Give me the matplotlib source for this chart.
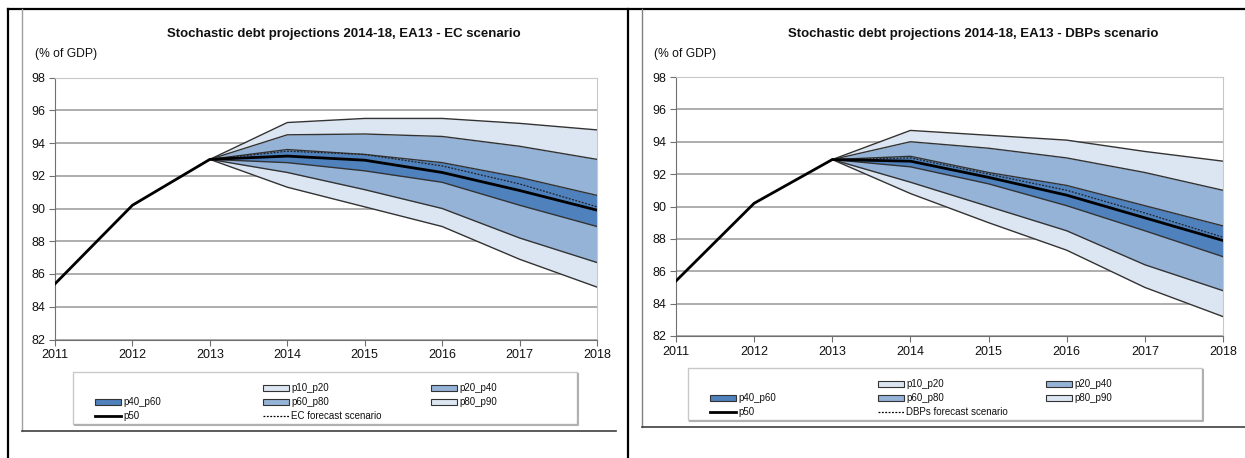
#!/usr/bin/env python3
"""Stochastic debt projections 2014-18, EA13: EC and DBPs scenario fan charts."""
import matplotlib
matplotlib.use("Agg")
import matplotlib.pyplot as plt
from matplotlib.patches import Rectangle
from matplotlib.lines import Line2D

plt.rcParams["font.family"] = ["Liberation Sans", "DejaVu Sans"]

W, H = 1245, 458

# history 2011-2013, and fan 2013-2018
hist_years = [2011, 2012, 2013]
fan_years = [2013, 2014, 2015, 2016, 2017, 2018]

ec_hist = [85.4, 90.2, 93.0]
ec_p10 = [93.0, 91.3, 90.1, 88.9, 86.9, 85.2]
ec_p20 = [93.0, 92.2, 91.15, 90.0, 88.2, 86.7]
ec_p40 = [93.0, 92.8, 92.3, 91.6, 90.2, 88.9]
ec_p50 = [93.0, 93.2, 92.95, 92.2, 91.1, 89.9]
ec_p60 = [93.0, 93.6, 93.3, 92.8, 91.9, 90.8]
ec_p80 = [93.0, 94.5, 94.55, 94.4, 93.8, 93.0]
ec_p90 = [93.0, 95.25, 95.5, 95.5, 95.2, 94.8]
ec_fc = [93.0, 93.5, 93.3, 92.6, 91.5, 90.1]

dbp_hist = [85.4, 90.2, 92.9]
dbp_p10 = [92.9, 90.8, 89.0, 87.3, 85.0, 83.2]
dbp_p20 = [92.9, 91.5, 90.0, 88.5, 86.4, 84.8]
dbp_p40 = [92.9, 92.45, 91.4, 90.05, 88.5, 86.9]
dbp_p50 = [92.9, 92.8, 91.8, 90.7, 89.3, 87.9]
dbp_p60 = [92.9, 93.1, 92.1, 91.3, 90.05, 88.8]
dbp_p80 = [92.9, 94.0, 93.6, 93.0, 92.1, 91.0]
dbp_p90 = [92.9, 94.7, 94.4, 94.1, 93.4, 92.8]
dbp_fc = [92.9, 93.0, 92.0, 91.0, 89.6, 88.1]

x_ticks = [2011, 2012, 2013, 2014, 2015, 2016, 2017, 2018]
y_ticks = [82, 84, 86, 88, 90, 92, 94, 96, 98]

LIGHT, MID, DARK = "#dce6f2", "#95b3d7", "#4f81bd"
EDGE = "#333333"


def fan_chart(ax, hist, p10, p20, p40, p50, p60, p80, p90, fc):
    bands = [(p10, p20, LIGHT), (p20, p40, MID), (p40, p60, DARK),
             (p60, p80, MID), (p80, p90, LIGHT)]
    for lo, hi, c in bands:
        ax.fill_between(fan_years, lo, hi, color=c, lw=0, zorder=2)
    for p in (p10, p20, p40, p60, p80, p90):
        ax.plot(fan_years, p, color=EDGE, lw=1.0, zorder=3)
    ax.plot(fan_years, fc, color="#222222", lw=0.9, ls=(0, (1.5, 1.2)), zorder=4)
    ax.plot(hist_years + fan_years[1:], hist + p50[1:], color="black", lw=2.0, zorder=5)

    ax.set_xlim(2011, 2018); ax.set_ylim(82, 98)
    ax.set_xticks(x_ticks); ax.set_yticks(y_ticks)
    ax.yaxis.grid(True, color="#a0a0a0", lw=1.2, zorder=1)
    ax.set_axisbelow(True)
    for s in ("left", "bottom"):
        ax.spines[s].set_color("#707070")
    for s in ("top", "right"):
        ax.spines[s].set_color("#c8c8c8")
    ax.tick_params(direction="out", length=4, color="#707070", labelsize=9,
                   labelcolor="#111111", pad=3)


def px_axes(fig, left, top, right, bottom):
    return fig.add_axes([left / W, 1 - bottom / H, (right - left) / W, (bottom - top) / H])


fig = plt.figure(figsize=(W / 100, H / 100), dpi=100)

ov = fig.add_axes([0, 0, 1, 1], zorder=0)
ov.set_xlim(0, W); ov.set_ylim(H, 0); ov.axis("off")
ov.patch.set_visible(False)

axl = px_axes(fig, 55, 77.5, 597, 339.5)
fan_chart(axl, ec_hist, ec_p10, ec_p20, ec_p40, ec_p50, ec_p60, ec_p80, ec_p90, ec_fc)
axr = px_axes(fig, 676, 77, 1223, 336)
fan_chart(axr, dbp_hist, dbp_p10, dbp_p20, dbp_p40, dbp_p50, dbp_p60, dbp_p80, dbp_p90, dbp_fc)

# table borders and chart frames
ov.plot([8, W], [9, 9], color="black", lw=1.6)
ov.plot([8, 8], [9, H], color="black", lw=1.6)
ov.plot([628, 628], [9, H], color="black", lw=1.6)
ov.plot([22, 22], [9, 431], color="#a0a0a0", lw=1)
ov.plot([22, 616], [431, 431], color="#404040", lw=1.2)
ov.plot([642, 642], [9, 427], color="#808080", lw=1)
ov.plot([642, W], [427, 427], color="#404040", lw=1.2)

# titles
ov.text(344, 34, "Stochastic debt projections 2014-18, EA13 - EC scenario",
        ha="center", va="center", fontsize=9.5, weight="bold", color="#111111")
ov.text(973, 34, "Stochastic debt projections 2014-18, EA13 - DBPs scenario",
        ha="center", va="center", fontsize=9.5, weight="bold", color="#111111")
ov.text(35, 54, "(% of GDP)", ha="left", va="center", fontsize=8.7, color="#111111")
ov.text(654, 54, "(% of GDP)", ha="left", va="center", fontsize=8.7, color="#111111")


def legend_box(x0, y0, x1, y1, cols, rows, scen_label):
    ov.add_patch(Rectangle((x0, y0), x1 - x0, y1 - y0, fc="white", ec="#c8c8c8", lw=1))
    ov.plot([x1 + 1, x1 + 1, x0 + 2], [y0 + 2, y1 + 1, y1 + 1], color="#b0b0b0", lw=1.5)
    entries = [(0, 1, "patch", LIGHT, "p10_p20"), (0, 2, "patch", MID, "p20_p40"),
               (1, 0, "patch", DARK, "p40_p60"), (1, 1, "patch", MID, "p60_p80"),
               (1, 2, "patch", LIGHT, "p80_p90"), (2, 0, "line", "-", "p50"),
               (2, 1, "line", ":", scen_label)]
    for r, c, kind, sty, lab in entries:
        x, y = cols[c], rows[r]
        if kind == "patch":
            ov.add_patch(Rectangle((x, y - 3), 26, 6, fc=sty, ec=EDGE, lw=0.8))
        else:
            ov.add_line(Line2D([x, x + 26], [y, y], color="black",
                               lw=2.0 if sty == "-" else 0.9,
                               ls="-" if sty == "-" else (0, (1.5, 1.2))))
        ov.text(x + 28, y, lab, ha="left", va="center", fontsize=7, color="#111111")


legend_box(73, 372, 577, 424, [95, 263, 431], [388, 402, 416], "EC forecast scenario")
legend_box(688, 368, 1202, 420, [710, 878, 1046], [384, 398, 412], "DBPs forecast scenario")

fig.savefig("out.png", dpi=100)
